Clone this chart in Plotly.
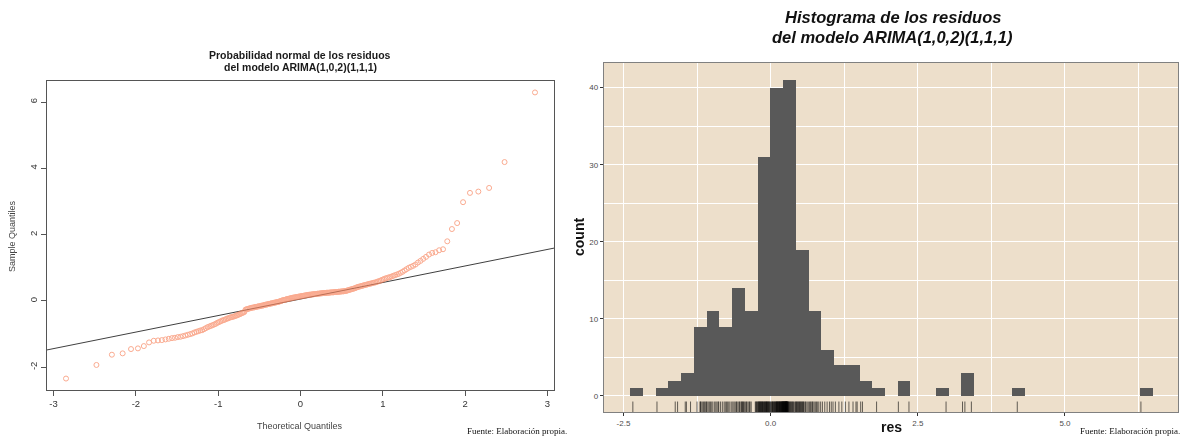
import plotly.graph_objects as go
import numpy as np
from statistics import NormalDist

# Residuos del modelo ARIMA(1,0,2)(1,1,1), ordenados
residuos = [
    -2.34, -1.93, -1.62, -1.58, -1.45, -1.43, -1.36,
    -1.25, -1.20, -1.19, -1.18, -1.16, -1.14, -1.12, -1.11, -1.09,
    -1.08, -1.06, -1.04, -1.02, -1.00, -0.98, -0.95, -0.93, -0.91, -0.89, -0.88,
    -0.85, -0.82, -0.79, -0.77, -0.75, -0.73, -0.71, -0.69, -0.66,
    -0.64, -0.62, -0.60, -0.58, -0.57, -0.55, -0.53, -0.52, -0.50, -0.49, -0.48, -0.47, -0.46, -0.44,
    -0.43, -0.41, -0.40, -0.38, -0.36, -0.35, -0.33, -0.26, -0.25, -0.24, -0.23,
    -0.22, -0.21, -0.20, -0.20, -0.19, -0.18, -0.18, -0.17, -0.16, -0.16, -0.15, -0.14, -0.14,
    -0.13, -0.12, -0.11, -0.11, -0.10, -0.09, -0.09, -0.08, -0.07, -0.07, -0.06, -0.05, -0.05,
    -0.04, -0.03, -0.03, -0.02, -0.01,
    0.00, 0.01, 0.02, 0.03, 0.03, 0.04, 0.05, 0.06, 0.06, 0.07, 0.08, 0.08, 0.09, 0.10, 0.10,
    0.11, 0.11, 0.12, 0.12, 0.13, 0.13, 0.14, 0.14, 0.15, 0.15, 0.16, 0.16, 0.17, 0.17, 0.18,
    0.18, 0.19, 0.19, 0.19, 0.20, 0.20, 0.20, 0.21, 0.21, 0.21,
    0.22, 0.22, 0.22, 0.23, 0.23, 0.23, 0.24, 0.24, 0.24, 0.24, 0.25, 0.25, 0.25, 0.25,
    0.26, 0.26, 0.26, 0.26, 0.27, 0.27, 0.27, 0.27, 0.28, 0.28, 0.28, 0.29, 0.29, 0.29,
    0.30, 0.30, 0.31, 0.32, 0.33, 0.34, 0.35, 0.36, 0.37, 0.38, 0.39, 0.41, 0.42,
    0.43, 0.44, 0.45, 0.46, 0.47, 0.48, 0.49, 0.50, 0.51, 0.52, 0.53, 0.54, 0.55, 0.56, 0.57,
    0.59, 0.60, 0.62, 0.64,
    0.66, 0.68, 0.69, 0.71, 0.72, 0.74, 0.76, 0.78, 0.80, 0.82, 0.85,
    0.88, 0.92, 0.96, 1.00, 1.03, 1.06,
    1.10, 1.16, 1.21, 1.27,
    1.33, 1.40, 1.45, 1.47,
    1.53, 1.56, 1.80, 2.17, 2.35, 2.98, 3.26, 3.30, 3.41, 4.19, 6.29,
]

qq_ticks_x = [-3, -2, -1, 0, 1, 2, 3]
qq_ticklabels_x = ["-3", "-2", "-1", "0", "1", "2", "3"]
qq_ticks_y = [-2, 0, 2, 4, 6]
qq_ticklabels_y = ["-2", "0", "2", "4", "6"]
hist_ticks_x = [-2.5, 0.0, 2.5, 5.0]
hist_ticklabels_x = ["-2.5", "0.0", "2.5", "5.0"]
hist_ticks_y = [0, 10, 20, 30, 40]

titulo_qq = ["Probabilidad normal de los residuos", "del modelo ARIMA(1,0,2)(1,1,1)"]
titulo_hist = ["Histograma de los residuos", "del modelo ARIMA(1,0,2)(1,1,1)"]
fuente = "Fuente: Elaboración propia."

W, H = 1193, 436


def px(x):
    return x / W


def py(y):
    return 1 - y / H


# --- Gráfico cuantil-cuantil normal ---
muestra = np.sort(np.array(residuos))
n = len(muestra)
nd = NormalDist()
teoricos = np.array([nd.inv_cdf((i - 0.5) / n) for i in range(1, n + 1)])

# recta de referencia por los cuartiles (como qqline)
q1, q3 = np.percentile(muestra, [25, 75])
z1, z3 = nd.inv_cdf(0.25), nd.inv_cdf(0.75)
pend = (q3 - q1) / (z3 - z1)
orde = q1 - pend * z1

xr = [-3.08, 3.08]
yr = [muestra.min() - 0.04 * np.ptp(muestra), muestra.max() + 0.04 * np.ptp(muestra)]

fig = go.Figure()
fig.add_trace(go.Scatter(
    x=xr, y=[orde + pend * v for v in xr], mode="lines",
    line=dict(color="#404040", width=1), xaxis="x", yaxis="y",
    showlegend=False, hoverinfo="skip"))
fig.add_trace(go.Scatter(
    x=teoricos, y=muestra, mode="markers",
    marker=dict(symbol="circle-open", size=5, color="#F7855F",
                line=dict(width=1, color="#F7855F")),
    opacity=0.7, xaxis="x", yaxis="y", showlegend=False))

# --- Histograma ---
fig.add_trace(go.Histogram(
    x=residuos, xbins=dict(start=-2.385, end=6.6, size=0.2164),
    marker=dict(color="#595959", line=dict(color="#595959", width=0)),
    xaxis="x2", yaxis="y2", showlegend=False))

shapes = [
    dict(type="rect", xref="x2 domain", yref="y2 domain", x0=0, x1=1, y0=0, y1=1,
         fillcolor="#EDDFCB", line=dict(width=0), layer="below"),
]
# marcas de alfombra (rug)
for v in residuos:
    shapes.append(dict(type="line", xref="x2", yref="y2 domain", x0=v, x1=v, y0=0, y1=0.03,
                       line=dict(color="rgba(0,0,0,0.6)", width=1), layer="above"))

ax_left = dict(showgrid=False, zeroline=False, showline=True, mirror=True,
               linecolor="#555555", linewidth=1, ticks="outside", ticklen=5,
               tickcolor="#555555", tickfont=dict(family="Liberation Sans", size=9.5, color="#333333"))

ax_right = dict(showgrid=True, gridcolor="#FFFFFF", gridwidth=1.1, zeroline=False,
                showline=True, mirror=True, linecolor="#808080", linewidth=1.4,
                ticks="outside", ticklen=3, tickcolor="#333333",
                tickfont=dict(family="Liberation Sans", size=8, color="#4D4D4D"))

fig.update_layout(
    width=W, height=H, margin=dict(l=0, r=0, t=0, b=0),
    paper_bgcolor="white", plot_bgcolor="rgba(0,0,0,0)",
    xaxis=dict(domain=[px(47), px(554)], range=xr, anchor="y",
               tickvals=qq_ticks_x, ticktext=qq_ticklabels_x, **ax_left),
    yaxis=dict(domain=[py(390), py(81)], range=yr, anchor="x",
               tickvals=qq_ticks_y, ticktext=qq_ticklabels_y, tickangle=-90, **ax_left),
    xaxis2=dict(domain=[px(604), px(1178)], range=[-2.83, 6.92], anchor="y2",
                tickvals=hist_ticks_x, ticktext=hist_ticklabels_x,
                minor=dict(showgrid=True, gridcolor="#FFFFFF", gridwidth=0.5,
                           tickvals=[-1.25, 1.25, 3.75, 6.25]),
                **ax_right),
    yaxis2=dict(domain=[py(412), py(63)], range=[-2.08, 43.2], anchor="x2",
                tickvals=hist_ticks_y,
                minor=dict(showgrid=True, gridcolor="#FFFFFF", gridwidth=0.5,
                           tickvals=[5, 15, 25, 35]),
                **ax_right),
    bargap=0,
    shapes=shapes,
)

ann = []
# títulos
for k, t in enumerate(titulo_qq):
    ann.append(dict(x=px(300), y=py(55 + 12 * k), text=f"<b>{t}</b>",
                    font=dict(family="Liberation Sans", size=10.5, color="#1a1a1a")))
for k, t in enumerate(titulo_hist):
    ann.append(dict(x=px(893), y=py(17 + 20 * k), text=f"<b><i>{t}</i></b>",
                    font=dict(family="Liberation Sans", size=16.5, color="#111111")))
# ejes del gráfico Q-Q
ann.append(dict(x=px(300), y=py(426), text="Theoretical Quantiles",
                font=dict(family="Liberation Sans", size=9, color="#444444")))
ann.append(dict(x=px(12), y=py(236), text="Sample Quantiles", textangle=-90,
                font=dict(family="Liberation Sans", size=9, color="#444444")))
# ejes del histograma
ann.append(dict(x=px(891), y=py(427), text="<b>res</b>",
                font=dict(family="Liberation Sans", size=14, color="#111111")))
ann.append(dict(x=px(579), y=py(237), text="<b>count</b>", textangle=-90,
                font=dict(family="Liberation Sans", size=14, color="#111111")))
# fuentes
ann.append(dict(x=px(517), y=py(431), text=fuente,
                font=dict(family="Liberation Serif", size=9, color="#111111")))
ann.append(dict(x=px(1130), y=py(431), text=fuente,
                font=dict(family="Liberation Serif", size=9, color="#111111")))

for a in ann:
    a.update(xref="paper", yref="paper", showarrow=False, xanchor="center", yanchor="middle")
fig.update_layout(annotations=ann)

fig.write_html("out.html")
